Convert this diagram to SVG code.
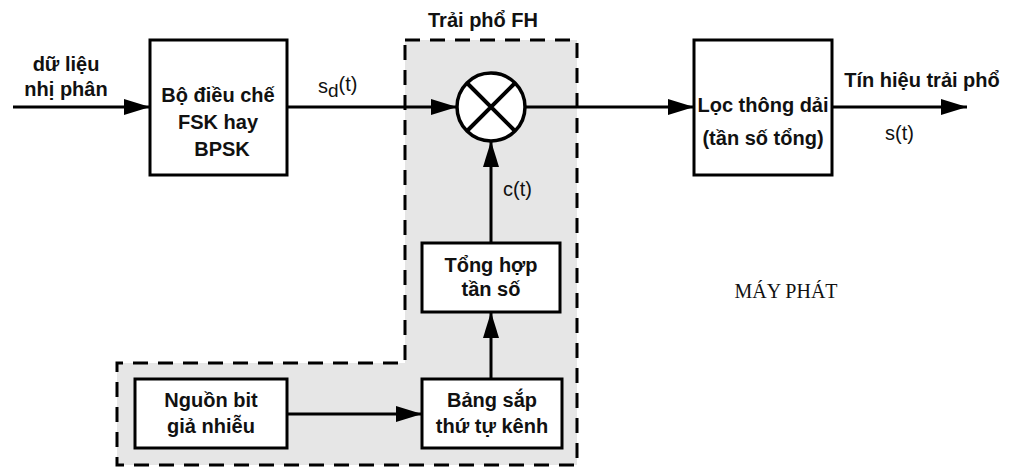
<svg xmlns="http://www.w3.org/2000/svg" width="1015" height="468" viewBox="0 0 1015 468">
<style>
.box{fill:#fff;stroke:#000;stroke-width:3}
.ln{fill:none;stroke:#000;stroke-width:3}
.t{font-family:"Liberation Sans",Arial,sans-serif;font-weight:bold;font-size:20px;fill:#111;text-anchor:middle}
.r{font-family:"Liberation Sans",Arial,sans-serif;font-size:20px;fill:#111}
.zone{fill:#e6e6e6;stroke:#000;stroke-width:3;stroke-dasharray:15 10}
</style>
<defs>
<marker id="ah" viewBox="0 0 26 16" refX="26" refY="8" markerWidth="26" markerHeight="16" markerUnits="userSpaceOnUse" orient="auto">
<path d="M0,0 L26,8 L0,16 Z" fill="#000"/>
</marker>
</defs>
<rect width="1015" height="468" fill="#fff"/>
<g id="fh-zone">
<path class="zone" d="M405,40 L577,40 L577,465 L117,465 L117,363 L405,363 Z"/>
<text class="t" x="483" y="27">Trải phổ FH</text>
</g>
<g id="connectors">
<line class="ln" x1="13" y1="107" x2="150" y2="107" marker-end="url(#ah)"/>
<line class="ln" x1="287" y1="107" x2="457" y2="107" marker-end="url(#ah)"/>
<line class="ln" x1="525" y1="107" x2="694" y2="107" marker-end="url(#ah)"/>
<line class="ln" x1="832" y1="107" x2="967" y2="107" marker-end="url(#ah)"/>
<line class="ln" x1="491" y1="243" x2="491" y2="141" marker-end="url(#ah)"/>
<line class="ln" x1="491" y1="379" x2="491" y2="312" marker-end="url(#ah)"/>
<line class="ln" x1="287" y1="414" x2="422" y2="414" marker-end="url(#ah)"/>
<text class="t" x="66" y="71">dữ liệu</text>
<text class="t" x="66" y="96">nhị phân</text>
<text class="r" x="318" y="93" font-size="22">s<tspan font-size="19" dy="4">d</tspan><tspan dy="-6">(t)</tspan></text>
<text class="r" x="503" y="196" font-size="21">c(t)</text>
<text class="t" x="922" y="87">Tín hiệu trải phổ</text>
<text class="r" x="885" y="140">s(t)</text>
</g>
<g id="modulator">
<rect class="box" x="150" y="40" width="137" height="135"/>
<text class="t" x="218" y="102">Bộ điều chế</text>
<text class="t" x="218" y="129">FSK hay</text>
<text class="t" x="222" y="156">BPSK</text>
</g>
<g id="mixer">
<circle cx="491" cy="107" r="34" fill="#fff" stroke="#000" stroke-width="3.5"/>
<path d="M467,83 L515,131 M515,83 L467,131" stroke="#000" stroke-width="4"/>
</g>
<g id="bandpass">
<rect class="box" x="694" y="40" width="138" height="135"/>
<text class="t" x="763" y="112">Lọc thông dải</text>
<text class="t" x="763" y="145">(tần số tổng)</text>
</g>
<g id="synth">
<rect class="box" x="422" y="243" width="138" height="69"/>
<text class="t" x="491" y="272">Tổng hợp</text>
<text class="t" x="491" y="296">tần số</text>
</g>
<g id="hoptable">
<rect class="box" x="422" y="379" width="140" height="69"/>
<text class="t" x="492" y="407">Bảng sắp</text>
<text class="t" x="492" y="433">thứ tự kênh</text>
</g>
<g id="pn-source">
<rect class="box" x="135" y="379" width="152" height="69"/>
<text class="t" x="211" y="407">Nguồn bit</text>
<text class="t" x="211" y="433">giả nhiễu</text>
</g>
<g id="label">
<text x="786" y="298" font-family="Liberation Serif,'Times New Roman',serif" font-size="20" fill="#111" text-anchor="middle">MÁY PHÁT</text>
</g>
</svg>
